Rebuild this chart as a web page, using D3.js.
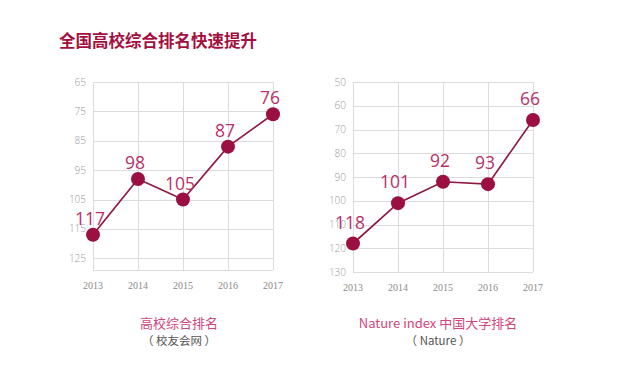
<!DOCTYPE html>
<html>
<head>
<meta charset="utf-8">
<script src="https://cdn.jsdelivr.net/npm/d3@7"></script>
<style>
    body { margin: 0; background: #fff; }
    svg { display: block; }
    .grid line { stroke: #dcdcdc; stroke-width: 1; }
    .ytick { font-family: "Open Sans", "DejaVu Sans", sans-serif; font-size: 10px; fill: #9a9a9a; font-weight: 300; }
    .xtick { font-family: "Liberation Serif", serif; font-size: 10px; fill: #8a8a8a; }
    .vlabel { font-family: "Open Sans", "Noto Sans", sans-serif; font-size: 17.5px; fill: #b8306a; }
</style>
</head>
<body>
<script>
'use strict';

// shared categories
var years = ['2013', '2014', '2015', '2016', '2017'];

// left chart: 校友会网 ranking
var cuaaRanks = [117, 98, 105, 87, 76];
var cuaaTicks = [65, 75, 85, 95, 105, 115, 125];

// right chart: Nature index ranking
var natureRanks = [118, 101, 92, 93, 66];
var natureTicks = [50, 60, 70, 80, 90, 100, 110, 120, 130];

var width = 640, height = 385;

var svg = d3.select('body').append('svg')
    .attr('width', width)
    .attr('height', height);

// title
svg.append('text')
    .attr('x', 59)
    .attr('y', 47)
    .attr('font-family', '"Noto Sans CJK SC", sans-serif')
    .attr('font-weight', 'bold')
    .attr('font-size', '16.5px')
    .attr('fill', '#a3103f')
    .text('全国高校综合排名快速提升');

/**
 * Draws one small ranking line chart
 */
function drawChart(o) {
    var g = svg.append('g');

    var x = d3.scalePoint()
        .domain(years)
        .range([o.left, o.right]);

    var y = d3.scaleLinear()
        .domain(o.domain)
        .range([o.top, o.bottom]);

    var grid = g.append('g').attr('class', 'grid');

    // horizontal grid lines
    grid.selectAll('line.h')
        .data(o.ticks)
        .enter().append('line')
        .attr('class', 'h')
        .attr('x1', o.left)
        .attr('x2', o.right)
        .attr('y1', function (d) { return Math.round(y(d)) + 0.5; })
        .attr('y2', function (d) { return Math.round(y(d)) + 0.5; });

    // bottom line
    grid.append('line')
        .attr('x1', o.left)
        .attr('x2', o.right)
        .attr('y1', Math.round(y(o.domain[1])) + 0.5)
        .attr('y2', Math.round(y(o.domain[1])) + 0.5);

    // vertical grid lines
    grid.selectAll('line.v')
        .data(years)
        .enter().append('line')
        .attr('class', 'v')
        .attr('x1', function (d) { return Math.round(x(d)) + 0.5; })
        .attr('x2', function (d) { return Math.round(x(d)) + 0.5; })
        .attr('y1', o.top)
        .attr('y2', y(o.domain[1]));

    g.selectAll('text.ytick')
        .data(o.ticks)
        .enter().append('text')
        .attr('class', 'ytick')
        .attr('text-anchor', 'end')
        .attr('x', o.left - 7)
        .attr('y', function (d) { return y(d) + 3.5; })
        .text(function (d) { return d; });

    g.selectAll('text.xtick')
        .data(years)
        .enter().append('text')
        .attr('class', 'xtick')
        .attr('text-anchor', 'middle')
        .attr('x', function (d) { return x(d); })
        .attr('y', o.bottom + 19)
        .text(function (d) { return d; });

    var line = d3.line()
        .x(function (d, i) { return x(years[i]); })
        .y(function (d) { return y(d); });

    g.append('path')
        .datum(o.values)
        .attr('fill', 'none')
        .attr('stroke', '#8e1a45')
        .attr('stroke-width', 1.7)
        .attr('d', line);

    g.selectAll('circle')
        .data(o.values)
        .enter().append('circle')
        .attr('cx', function (d, i) { return x(years[i]); })
        .attr('cy', function (d) { return y(d); })
        .attr('r', 7)
        .attr('fill', '#9b1040');

    g.selectAll('text.vlabel')
        .data(o.values)
        .enter().append('text')
        .attr('class', 'vlabel')
        .attr('text-anchor', 'middle')
        .attr('x', function (d, i) { return x(years[i]) - 3; })
        .attr('y', function (d) { return y(d) - o.labelGap; })
        .text(function (d) { return d; });

    // captions under the chart
    svg.append('text')
        .attr('x', o.captionX)
        .attr('y', 328)
        .attr('text-anchor', 'middle')
        .attr('font-family', '"Noto Sans CJK SC", sans-serif')
        .attr('font-size', '13px')
        .attr('fill', '#d0457c')
        .text(o.caption);

    svg.append('text')
        .attr('x', o.captionX)
        .attr('y', 345)
        .attr('text-anchor', 'middle')
        .attr('font-family', '"Noto Sans CJK SC", sans-serif')
        .attr('font-size', '11.5px')
        .attr('fill', '#555')
        .text(o.source);
}

drawChart({
    values: cuaaRanks,
    ticks: cuaaTicks,
    domain: [65, 129],
    left: 93, right: 273,
    top: 82, bottom: 270,
    labelGap: 10,
    captionX: 179,
    caption: '高校综合排名',
    source: '（ 校友会网 ）'
});

drawChart({
    values: natureRanks,
    ticks: natureTicks,
    domain: [50, 130],
    left: 353, right: 533,
    top: 82, bottom: 272,
    labelGap: 15,
    captionX: 438,
    caption: 'Nature index 中国大学排名',
    source: '（ Nature ）'
});
</script>
</body>
</html>
